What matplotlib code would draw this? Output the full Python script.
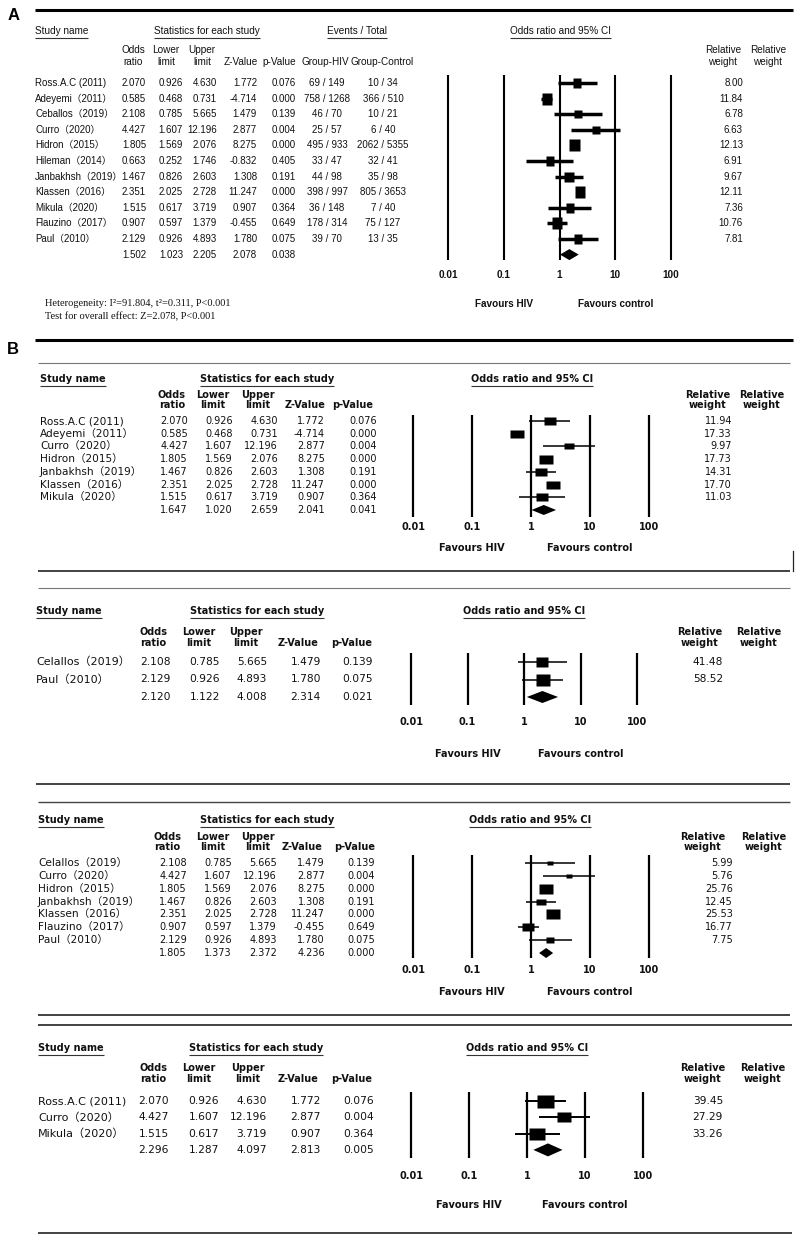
import numpy as np
import matplotlib
matplotlib.use('Agg')
from matplotlib import pyplot as plt

#==============================================================================
#                  Data
#==============================================================================

# A : all studies
names_A = ['Ross.A.C (2011)', 'Adeyemi（2011）', 'Ceballos（2019）', 'Curro（2020）',
           'Hidron（2015）', 'Hileman（2014）', 'Janbakhsh（2019）', 'Klassen（2016）',
           'Mikula（2020）', 'Flauzino（2017）', 'Paul（2010）']
or_A   = [2.070, 0.585, 2.108, 4.427, 1.805, 0.663, 1.467, 2.351, 1.515, 0.907, 2.129]
lo_A   = [0.926, 0.468, 0.785, 1.607, 1.569, 0.252, 0.826, 2.025, 0.617, 0.597, 0.926]
hi_A   = [4.630, 0.731, 5.665, 12.196, 2.076, 1.746, 2.603, 2.728, 3.719, 1.379, 4.893]
z_A    = [1.772, -4.714, 1.479, 2.877, 8.275, -0.832, 1.308, 11.247, 0.907, -0.455, 1.780]
p_A    = [0.076, 0.000, 0.139, 0.004, 0.000, 0.405, 0.191, 0.000, 0.364, 0.649, 0.075]
hiv_A  = ['69 / 149', '758 / 1268', '46 / 70', '25 / 57', '495 / 933', '33 / 47',
          '44 / 98', '398 / 997', '36 / 148', '178 / 314', '39 / 70']
ctrl_A = ['10 / 34', '366 / 510', '10 / 21', '6 / 40', '2062 / 5355', '32 / 41',
          '35 / 98', '805 / 3653', '7 / 40', '75 / 127', '13 / 35']
wt_A   = [8.00, 11.84, 6.78, 6.63, 12.13, 6.91, 9.67, 12.11, 7.36, 10.76, 7.81]
pool_A = [1.502, 1.023, 2.205, 2.078, 0.038]

# B, subgroup 1
names_B1 = ['Ross.A.C (2011)', 'Adeyemi（2011）', 'Curro（2020）', 'Hidron（2015）',
            'Janbakhsh（2019）', 'Klassen（2016）', 'Mikula（2020）']
or_B1   = [2.070, 0.585, 4.427, 1.805, 1.467, 2.351, 1.515]
lo_B1   = [0.926, 0.468, 1.607, 1.569, 0.826, 2.025, 0.617]
hi_B1   = [4.630, 0.731, 12.196, 2.076, 2.603, 2.728, 3.719]
z_B1    = [1.772, -4.714, 2.877, 8.275, 1.308, 11.247, 0.907]
p_B1    = [0.076, 0.000, 0.004, 0.000, 0.191, 0.000, 0.364]
wt_B1   = [11.94, 17.33, 9.97, 17.73, 14.31, 17.70, 11.03]
pool_B1 = [1.647, 1.020, 2.659, 2.041, 0.041]

# B, subgroup 2
names_B2 = ['Celallos（2019）', 'Paul（2010）']
or_B2   = [2.108, 2.129]
lo_B2   = [0.785, 0.926]
hi_B2   = [5.665, 4.893]
z_B2    = [1.479, 1.780]
p_B2    = [0.139, 0.075]
wt_B2   = [41.48, 58.52]
pool_B2 = [2.120, 1.122, 4.008, 2.314, 0.021]

# B, subgroup 3
names_B3 = ['Celallos（2019）', 'Curro（2020）', 'Hidron（2015）', 'Janbakhsh（2019）',
            'Klassen（2016）', 'Flauzino（2017）', 'Paul（2010）']
or_B3   = [2.108, 4.427, 1.805, 1.467, 2.351, 0.907, 2.129]
lo_B3   = [0.785, 1.607, 1.569, 0.826, 2.025, 0.597, 0.926]
hi_B3   = [5.665, 12.196, 2.076, 2.603, 2.728, 1.379, 4.893]
z_B3    = [1.479, 2.877, 8.275, 1.308, 11.247, -0.455, 1.780]
p_B3    = [0.139, 0.004, 0.000, 0.191, 0.000, 0.649, 0.075]
wt_B3   = [5.99, 5.76, 25.76, 12.45, 25.53, 16.77, 7.75]
pool_B3 = [1.805, 1.373, 2.372, 4.236, 0.000]

# B, subgroup 4
names_B4 = ['Ross.A.C (2011)', 'Curro（2020）', 'Mikula（2020）']
or_B4   = [2.070, 4.427, 1.515]
lo_B4   = [0.926, 1.607, 0.617]
hi_B4   = [4.630, 12.196, 3.719]
z_B4    = [1.772, 2.877, 0.907]
p_B4    = [0.076, 0.004, 0.364]
wt_B4   = [39.45, 27.29, 33.26]
pool_B4 = [2.296, 1.287, 4.097, 2.813, 0.005]

ticks      = [0.01, 0.1, 1, 10, 100]
tick_labs  = ['0.01', '0.1', '1', '10', '100']
hdr_cols   = [('Odds', 'ratio'), ('Lower', 'limit'), ('Upper', 'limit'), ('', 'Z-Value'), ('', 'p-Value')]

#==============================================================================
#                  Figure
#==============================================================================

W, H = 798, 1239
fig = plt.figure(figsize=(W/100, H/100), dpi=100)
bg = fig.add_axes([0, 0, 1, 1])
bg.set_xlim(0, W)
bg.set_ylim(H, 0)
bg.axis('off')
rend = fig.canvas.get_renderer()
TXT = '#111111'


def hline(y, x0, x1, lw=1.0, color='k'):
    bg.plot([x0, x1], [y, y], color=color, lw=lw, solid_capstyle='butt')


def underline(t, gap=1.5, lw=0.8):
    bb = t.get_window_extent(renderer=rend)
    y = H - bb.y0 + gap
    bg.plot([bb.x0, bb.x1], [y, y], color='#333333', lw=lw, solid_capstyle='butt')


def draw_panel(L, names, orr, lo, hi, z, p, wt, pool):
    fam = L['fam']
    kw = dict(family=fam, fontsize=L['fs'], color=TXT, va='center')
    hkw = dict(family=fam, fontsize=L['hfs'], fontweight=L['hw'], color=TXT, va='center')

    # titles
    ty = L['title_y']
    t = bg.text(L['name_x'], ty, 'Study name', ha='left', **hkw)
    underline(t)
    t = bg.text(L['stats_cx'], ty, 'Statistics for each study', ha='center', **hkw)
    underline(t)
    t = bg.text(L['or_cx'], ty, 'Odds ratio and 95% CI', ha='center', **hkw)
    underline(t)

    # column headers
    h1, h2 = L['hdr_y']
    for (a, b), cx in zip(hdr_cols, L['hdr_x']):
        bg.text(cx, h1, a, ha='center', **hkw)
        bg.text(cx, h2, b, ha='center', **hkw)
    for cx in L['rw_x']:
        bg.text(cx, h1, 'Relative', ha='center', **hkw)
        bg.text(cx, h2, 'weight', ha='center', **hkw)

    # table rows
    rows = L['row0'] + L['dy'] * np.arange(len(names) + 1)
    for i, nm in enumerate(names):
        bg.text(L['name_x'], rows[i], nm, ha='left', va='center', color=TXT,
                family=[fam, 'Noto Sans CJK SC'], fontsize=L['nfs'])
        for v, xr in zip([orr[i], lo[i], hi[i], z[i], p[i]], L['num_r']):
            bg.text(xr, rows[i], '%.3f' % v, ha='right', **kw)
        bg.text(L['wt_r'], rows[i], '%.2f' % wt[i], ha='right', **kw)
    for v, xr in zip(pool, L['num_r']):
        bg.text(xr, rows[-1], '%.3f' % v, ha='right', **kw)

    # forest part, log scale
    x1, dec = L['x1'], L['dec']
    top, bot = L['vtop'] - 6, L['fav_y'] + 8
    left, right = x1 - 2.6 * dec, x1 + 2.6 * dec
    ax = fig.add_axes([left / W, 1 - bot / H, (right - left) / W, (bot - top) / H])
    ax.set_xscale('log')
    ax.set_xlim(10 ** ((left - x1) / dec), 10 ** ((right - x1) / dec))
    ax.set_ylim(bot, top)
    ax.axis('off')

    ax.vlines(ticks, L['vtop'], L['vbot'], color='k', lw=L['vlw'])
    for v, lab in zip(ticks, tick_labs):
        ax.text(v, L['tick_y'], lab, ha='center', va='center', family=fam,
                fontsize=L['hfs'], fontweight='bold', color=TXT)
    ax.text(0.1, L['fav_y'], 'Favours HIV', ha='center', va='center', family=fam,
            fontsize=L['hfs'], fontweight='bold', color=TXT)
    ax.text(10, L['fav_y'], 'Favours control', ha='center', va='center', family=fam,
            fontsize=L['hfs'], fontweight='bold', color=TXT)

    ax.hlines(rows[:-1], lo, hi, color='k', lw=L['cilw'])
    wmax = max(wt)
    for i in range(len(names)):
        s = np.sqrt(wt[i] / wmax)
        w, h = L['box'][0] * s, L['box'][1] * s
        verts = [(-w/2, -h/2), (w/2, -h/2), (w/2, h/2), (-w/2, h/2), (-w/2, -h/2)]
        ax.plot(orr[i], rows[i], marker=verts, ms=max(w, h) * 0.72,
                mfc='k', mec='none', ls='none')
    y, d = rows[-1], L['dia'] / 2
    ax.fill([pool[1], pool[0], pool[2], pool[0]], [y, y - d, y, y + d], color='k', lw=0)
    return rows


#==============================================================================
#                  Panel A
#==============================================================================

LA = dict(fam='Liberation Sans', fs=7, nfs=7, hfs=7.2, hw='normal',
          title_y=31, name_x=35, stats_cx=207, or_cx=560,
          hdr_y=(50, 62), hdr_x=[133, 166, 202, 241, 279], rw_x=[723, 768],
          row0=83, dy=15.6, num_r=[146, 183, 217, 257, 296], wt_r=743,
          x1=559.5, dec=55.8, vtop=75, vbot=260, tick_y=275, fav_y=304,
          box=(11, 12), cilw=2.5, vlw=1.5, dia=11)

bg.text(8, 15, 'A', fontsize=12, fontweight='bold', family='Liberation Sans', va='center')
hline(10, 35, 793, lw=2.2)
rowsA = draw_panel(LA, names_A, or_A, lo_A, hi_A, z_A, p_A, wt_A, pool_A)

t = bg.text(357, 31, 'Events / Total', ha='center', va='center', family='Liberation Sans',
            fontsize=7.2, color=TXT)
underline(t)
bg.text(325, 62, 'Group-HIV', ha='center', va='center', family='Liberation Sans', fontsize=7.2, color=TXT)
bg.text(382, 62, 'Group-Control', ha='center', va='center', family='Liberation Sans', fontsize=7.2, color=TXT)
for i in range(len(names_A)):
    bg.text(327, rowsA[i], hiv_A[i], ha='center', va='center', family='Liberation Sans', fontsize=7, color=TXT)
    bg.text(383, rowsA[i], ctrl_A[i], ha='center', va='center', family='Liberation Sans', fontsize=7, color=TXT)

bg.text(45, 304, 'Heterogeneity: I²=91.804, t²=0.311, P<0.001', ha='left', va='center',
        family='Liberation Serif', fontsize=7.5, color=TXT)
bg.text(45, 317, 'Test for overall effect: Z=2.078, P<0.001', ha='left', va='center',
        family='Liberation Serif', fontsize=7.5, color=TXT)

#==============================================================================
#                  Panel B
#==============================================================================

bg.text(7, 349, 'B', fontsize=12, fontweight='bold', family='Liberation Sans', va='center')
hline(340, 35, 793, lw=2.2)
hline(363, 38, 790, lw=0.8, color='#777777')

base = dict(fam='DejaVu Sans', fs=7, nfs=7.6, hfs=7, hw='bold', cilw=1.1, vlw=1.6)

LB1 = dict(base, title_y=379, name_x=40, stats_cx=267, or_cx=532,
           hdr_y=(395, 405), hdr_x=[172, 213, 258, 305, 353], rw_x=[708, 762],
           row0=421, dy=12.71, num_r=[188, 233, 278, 325, 377], wt_r=732,
           x1=531, dec=59, vtop=415, vbot=517, tick_y=527, fav_y=548,
           box=(14, 9), dia=10)
draw_panel(LB1, names_B1, or_B1, lo_B1, hi_B1, z_B1, p_B1, wt_B1, pool_B1)
hline(571, 38, 790, lw=1.2, color='#222222')
bg.plot([793, 793], [551, 571], color='#222222', lw=0.9)
hline(588, 38, 790, lw=0.8, color='#777777')

LB2 = dict(base, fs=7.7, nfs=8, title_y=611, name_x=36, stats_cx=257, or_cx=524,
           hdr_y=(632, 643), hdr_x=[153, 199, 246, 298, 352], rw_x=[700, 759],
           row0=662, dy=17.5, num_r=[171, 220, 267, 321, 373], wt_r=723,
           x1=524, dec=56.5, vtop=653, vbot=705, tick_y=722, fav_y=754,
           box=(14, 12), dia=12)
draw_panel(LB2, names_B2, or_B2, lo_B2, hi_B2, z_B2, p_B2, wt_B2, pool_B2)
hline(784, 36, 790, lw=1.2, color='#222222')
hline(802, 38, 790, lw=1.0, color='#444444')

LB3 = dict(base, title_y=820, name_x=38, stats_cx=267, or_cx=530,
           hdr_y=(837, 847), hdr_x=[167, 213, 258, 302, 355], rw_x=[703, 764],
           row0=863, dy=12.86, num_r=[187, 232, 277, 325, 375], wt_r=733,
           x1=531, dec=59, vtop=855, vbot=958, tick_y=970, fav_y=992,
           box=(14, 10), dia=10)
draw_panel(LB3, names_B3, or_B3, lo_B3, hi_B3, z_B3, p_B3, wt_B3, pool_B3)
hline(1015, 38, 790, lw=1.2, color='#222222')
hline(1025, 38, 792, lw=1.2, color='#222222')

LB4 = dict(base, fs=7.7, nfs=8, cilw=1.4, title_y=1048, name_x=38, stats_cx=256, or_cx=527,
           hdr_y=(1068, 1079), hdr_x=[153, 199, 248, 298, 352], rw_x=[703, 763],
           row0=1101, dy=16.3, num_r=[169, 219, 267, 321, 374], wt_r=723,
           x1=527, dec=58, vtop=1092, vbot=1158, tick_y=1176, fav_y=1205,
           box=(17, 13), dia=13)
draw_panel(LB4, names_B4, or_B4, lo_B4, hi_B4, z_B4, p_B4, wt_B4, pool_B4)
hline(1233, 38, 792, lw=1.2, color='#222222')

plt.savefig('out.png', dpi=100)
